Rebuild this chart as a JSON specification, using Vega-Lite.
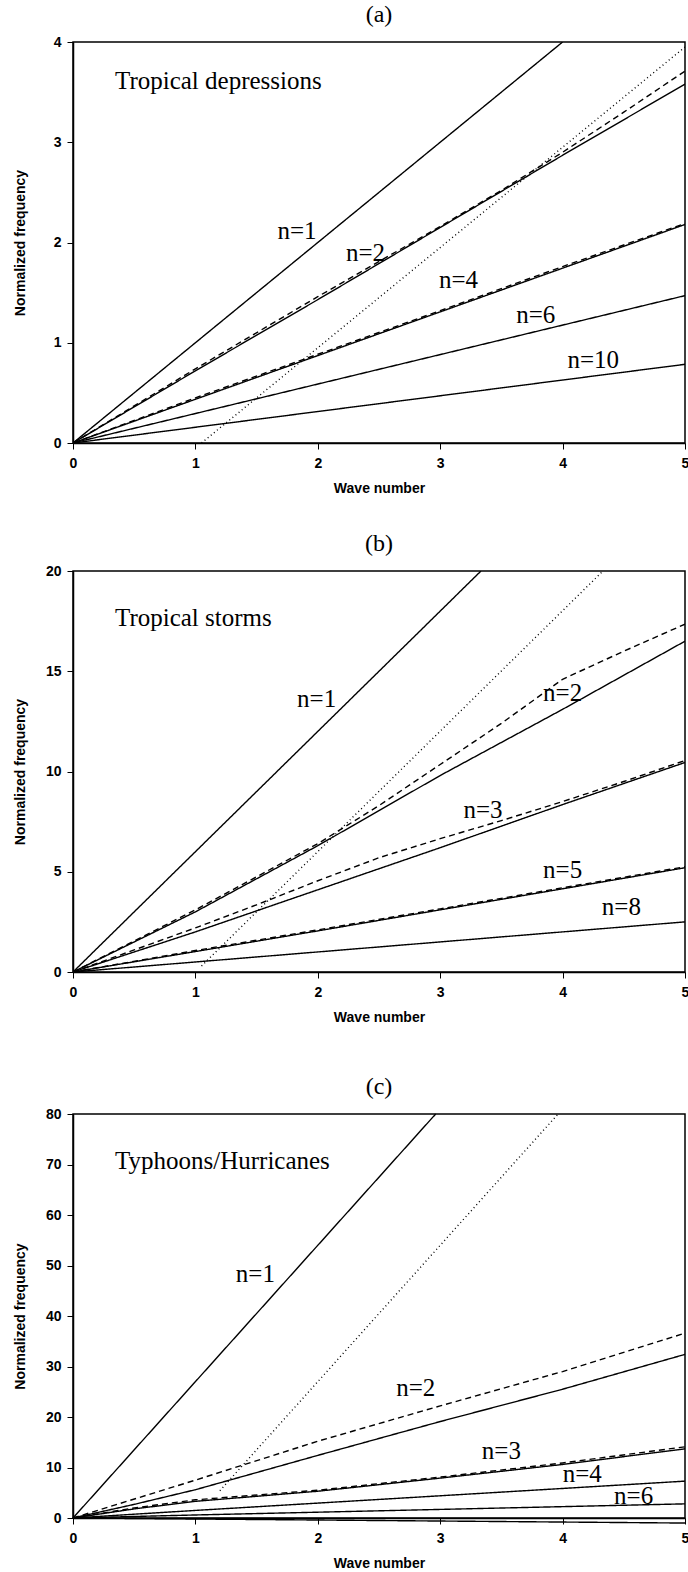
{
  "$schema": "https://vega.github.io/schema/vega-lite/v6.json",
  "background": "white",
  "padding": {"left": 12, "top": 2, "right": 0, "bottom": 0},
  "datasets": {
    "lines": [
      {"panel": "a", "series": "a1", "style": "solid", "wave": 0, "freq": 0},
      {"panel": "a", "series": "a1", "style": "solid", "wave": 1, "freq": 1},
      {"panel": "a", "series": "a1", "style": "solid", "wave": 2, "freq": 2},
      {"panel": "a", "series": "a1", "style": "solid", "wave": 3, "freq": 3},
      {"panel": "a", "series": "a1", "style": "solid", "wave": 4, "freq": 4},
      {"panel": "a", "series": "a2", "style": "solid", "wave": 0, "freq": 0},
      {"panel": "a", "series": "a2", "style": "solid", "wave": 1, "freq": 0.72},
      {"panel": "a", "series": "a2", "style": "solid", "wave": 2, "freq": 1.43},
      {"panel": "a", "series": "a2", "style": "solid", "wave": 3, "freq": 2.15},
      {"panel": "a", "series": "a2", "style": "solid", "wave": 4, "freq": 2.87},
      {"panel": "a", "series": "a2", "style": "solid", "wave": 5, "freq": 3.58},
      {"panel": "a", "series": "a2d", "style": "dashed", "wave": 0, "freq": 0},
      {"panel": "a", "series": "a2d", "style": "dashed", "wave": 1, "freq": 0.74},
      {"panel": "a", "series": "a2d", "style": "dashed", "wave": 2, "freq": 1.46},
      {"panel": "a", "series": "a2d", "style": "dashed", "wave": 3, "freq": 2.16},
      {"panel": "a", "series": "a2d", "style": "dashed", "wave": 3.5, "freq": 2.52},
      {"panel": "a", "series": "a2d", "style": "dashed", "wave": 4, "freq": 2.9},
      {"panel": "a", "series": "a2d", "style": "dashed", "wave": 4.5, "freq": 3.3},
      {"panel": "a", "series": "a2d", "style": "dashed", "wave": 5, "freq": 3.71},
      {"panel": "a", "series": "adot", "style": "dotted", "wave": 1.05, "freq": 0},
      {"panel": "a", "series": "adot", "style": "dotted", "wave": 5, "freq": 3.95},
      {"panel": "a", "series": "a4", "style": "solid", "wave": 0, "freq": 0},
      {"panel": "a", "series": "a4", "style": "solid", "wave": 5, "freq": 2.18},
      {"panel": "a", "series": "a4d", "style": "dashed", "wave": 0, "freq": 0},
      {"panel": "a", "series": "a4d", "style": "dashed", "wave": 1, "freq": 0.45},
      {"panel": "a", "series": "a4d", "style": "dashed", "wave": 2, "freq": 0.885},
      {"panel": "a", "series": "a4d", "style": "dashed", "wave": 3, "freq": 1.32},
      {"panel": "a", "series": "a4d", "style": "dashed", "wave": 4, "freq": 1.76},
      {"panel": "a", "series": "a4d", "style": "dashed", "wave": 5, "freq": 2.19},
      {"panel": "a", "series": "a6", "style": "solid", "wave": 0, "freq": 0},
      {"panel": "a", "series": "a6", "style": "solid", "wave": 5, "freq": 1.47},
      {"panel": "a", "series": "a10", "style": "solid", "wave": 0, "freq": 0},
      {"panel": "a", "series": "a10", "style": "solid", "wave": 5, "freq": 0.785},

      {"panel": "b", "series": "b1", "style": "solid", "wave": 0, "freq": 0},
      {"panel": "b", "series": "b1", "style": "solid", "wave": 1, "freq": 6},
      {"panel": "b", "series": "b1", "style": "solid", "wave": 2, "freq": 12},
      {"panel": "b", "series": "b1", "style": "solid", "wave": 3, "freq": 18},
      {"panel": "b", "series": "b1", "style": "solid", "wave": 3.333, "freq": 20},
      {"panel": "b", "series": "bdot", "style": "dotted", "wave": 1.05, "freq": 0.3},
      {"panel": "b", "series": "bdot", "style": "dotted", "wave": 4.33, "freq": 20},
      {"panel": "b", "series": "b2", "style": "solid", "wave": 0, "freq": 0},
      {"panel": "b", "series": "b2", "style": "solid", "wave": 1, "freq": 3.0},
      {"panel": "b", "series": "b2", "style": "solid", "wave": 2, "freq": 6.3},
      {"panel": "b", "series": "b2", "style": "solid", "wave": 3, "freq": 9.8},
      {"panel": "b", "series": "b2", "style": "solid", "wave": 4, "freq": 13.1},
      {"panel": "b", "series": "b2", "style": "solid", "wave": 5, "freq": 16.5},
      {"panel": "b", "series": "b2d", "style": "dashed", "wave": 0, "freq": 0},
      {"panel": "b", "series": "b2d", "style": "dashed", "wave": 0.5, "freq": 1.55},
      {"panel": "b", "series": "b2d", "style": "dashed", "wave": 1, "freq": 3.1},
      {"panel": "b", "series": "b2d", "style": "dashed", "wave": 1.5, "freq": 4.75},
      {"panel": "b", "series": "b2d", "style": "dashed", "wave": 2, "freq": 6.4},
      {"panel": "b", "series": "b2d", "style": "dashed", "wave": 2.5, "freq": 8.3},
      {"panel": "b", "series": "b2d", "style": "dashed", "wave": 3, "freq": 10.35},
      {"panel": "b", "series": "b2d", "style": "dashed", "wave": 3.5, "freq": 12.4},
      {"panel": "b", "series": "b2d", "style": "dashed", "wave": 4, "freq": 14.6},
      {"panel": "b", "series": "b2d", "style": "dashed", "wave": 4.5, "freq": 16.0},
      {"panel": "b", "series": "b2d", "style": "dashed", "wave": 5, "freq": 17.35},
      {"panel": "b", "series": "b3", "style": "solid", "wave": 0, "freq": 0},
      {"panel": "b", "series": "b3", "style": "solid", "wave": 1, "freq": 2.0},
      {"panel": "b", "series": "b3", "style": "solid", "wave": 2, "freq": 4.1},
      {"panel": "b", "series": "b3", "style": "solid", "wave": 3, "freq": 6.2},
      {"panel": "b", "series": "b3", "style": "solid", "wave": 4, "freq": 8.35},
      {"panel": "b", "series": "b3", "style": "solid", "wave": 5, "freq": 10.45},
      {"panel": "b", "series": "b3d", "style": "dashed", "wave": 0, "freq": 0},
      {"panel": "b", "series": "b3d", "style": "dashed", "wave": 0.5, "freq": 1.1},
      {"panel": "b", "series": "b3d", "style": "dashed", "wave": 1, "freq": 2.2},
      {"panel": "b", "series": "b3d", "style": "dashed", "wave": 1.5, "freq": 3.35},
      {"panel": "b", "series": "b3d", "style": "dashed", "wave": 2, "freq": 4.55},
      {"panel": "b", "series": "b3d", "style": "dashed", "wave": 2.5, "freq": 5.7},
      {"panel": "b", "series": "b3d", "style": "dashed", "wave": 3, "freq": 6.65},
      {"panel": "b", "series": "b3d", "style": "dashed", "wave": 3.5, "freq": 7.55},
      {"panel": "b", "series": "b3d", "style": "dashed", "wave": 4, "freq": 8.5},
      {"panel": "b", "series": "b3d", "style": "dashed", "wave": 4.5, "freq": 9.5},
      {"panel": "b", "series": "b3d", "style": "dashed", "wave": 5, "freq": 10.55},
      {"panel": "b", "series": "b5", "style": "solid", "wave": 0, "freq": 0},
      {"panel": "b", "series": "b5", "style": "solid", "wave": 1, "freq": 1.02},
      {"panel": "b", "series": "b5", "style": "solid", "wave": 2, "freq": 2.05},
      {"panel": "b", "series": "b5", "style": "solid", "wave": 3, "freq": 3.1},
      {"panel": "b", "series": "b5", "style": "solid", "wave": 4, "freq": 4.15},
      {"panel": "b", "series": "b5", "style": "solid", "wave": 5, "freq": 5.2},
      {"panel": "b", "series": "b5d", "style": "dashed", "wave": 0, "freq": 0},
      {"panel": "b", "series": "b5d", "style": "dashed", "wave": 1, "freq": 1.07},
      {"panel": "b", "series": "b5d", "style": "dashed", "wave": 2, "freq": 2.1},
      {"panel": "b", "series": "b5d", "style": "dashed", "wave": 3, "freq": 3.15},
      {"panel": "b", "series": "b5d", "style": "dashed", "wave": 4, "freq": 4.2},
      {"panel": "b", "series": "b5d", "style": "dashed", "wave": 5, "freq": 5.25},
      {"panel": "b", "series": "b8", "style": "solid", "wave": 0, "freq": 0},
      {"panel": "b", "series": "b8", "style": "solid", "wave": 5, "freq": 2.5},

      {"panel": "c", "series": "c1", "style": "solid", "wave": 0, "freq": 0},
      {"panel": "c", "series": "c1", "style": "solid", "wave": 1, "freq": 27},
      {"panel": "c", "series": "c1", "style": "solid", "wave": 2, "freq": 54},
      {"panel": "c", "series": "c1", "style": "solid", "wave": 2.963, "freq": 80},
      {"panel": "c", "series": "cdot", "style": "dotted", "wave": 1.2, "freq": 5.4},
      {"panel": "c", "series": "cdot", "style": "dotted", "wave": 3.963, "freq": 80},
      {"panel": "c", "series": "c2", "style": "solid", "wave": 0, "freq": 0},
      {"panel": "c", "series": "c2", "style": "solid", "wave": 0.5, "freq": 2.7},
      {"panel": "c", "series": "c2", "style": "solid", "wave": 1, "freq": 5.6},
      {"panel": "c", "series": "c2", "style": "solid", "wave": 2, "freq": 12.4},
      {"panel": "c", "series": "c2", "style": "solid", "wave": 3, "freq": 19.1},
      {"panel": "c", "series": "c2", "style": "solid", "wave": 4, "freq": 25.5},
      {"panel": "c", "series": "c2", "style": "solid", "wave": 5, "freq": 32.4},
      {"panel": "c", "series": "c2d", "style": "dashed", "wave": 0, "freq": 0},
      {"panel": "c", "series": "c2d", "style": "dashed", "wave": 1, "freq": 7.5},
      {"panel": "c", "series": "c2d", "style": "dashed", "wave": 2, "freq": 15.2},
      {"panel": "c", "series": "c2d", "style": "dashed", "wave": 3, "freq": 22.2},
      {"panel": "c", "series": "c2d", "style": "dashed", "wave": 4, "freq": 29.0},
      {"panel": "c", "series": "c2d", "style": "dashed", "wave": 5, "freq": 36.6},
      {"panel": "c", "series": "c3", "style": "solid", "wave": 0, "freq": 0},
      {"panel": "c", "series": "c3", "style": "solid", "wave": 0.5, "freq": 1.8},
      {"panel": "c", "series": "c3", "style": "solid", "wave": 1, "freq": 3.3},
      {"panel": "c", "series": "c3", "style": "solid", "wave": 2, "freq": 5.3},
      {"panel": "c", "series": "c3", "style": "solid", "wave": 3, "freq": 7.9},
      {"panel": "c", "series": "c3", "style": "solid", "wave": 4, "freq": 10.6},
      {"panel": "c", "series": "c3", "style": "solid", "wave": 5, "freq": 13.7},
      {"panel": "c", "series": "c3d", "style": "dashed", "wave": 0, "freq": 0},
      {"panel": "c", "series": "c3d", "style": "dashed", "wave": 0.5, "freq": 2.0},
      {"panel": "c", "series": "c3d", "style": "dashed", "wave": 1, "freq": 3.6},
      {"panel": "c", "series": "c3d", "style": "dashed", "wave": 2, "freq": 5.5},
      {"panel": "c", "series": "c3d", "style": "dashed", "wave": 3, "freq": 8.1},
      {"panel": "c", "series": "c3d", "style": "dashed", "wave": 4, "freq": 10.9},
      {"panel": "c", "series": "c3d", "style": "dashed", "wave": 5, "freq": 14.1},
      {"panel": "c", "series": "c4", "style": "solid", "wave": 0, "freq": 0},
      {"panel": "c", "series": "c4", "style": "solid", "wave": 1, "freq": 1.5},
      {"panel": "c", "series": "c4", "style": "solid", "wave": 2, "freq": 2.95},
      {"panel": "c", "series": "c4", "style": "solid", "wave": 3, "freq": 4.4},
      {"panel": "c", "series": "c4", "style": "solid", "wave": 4, "freq": 5.85},
      {"panel": "c", "series": "c4", "style": "solid", "wave": 5, "freq": 7.3},
      {"panel": "c", "series": "c6", "style": "solid", "wave": 0, "freq": 0},
      {"panel": "c", "series": "c6", "style": "solid", "wave": 1, "freq": 0.6},
      {"panel": "c", "series": "c6", "style": "solid", "wave": 2, "freq": 1.15},
      {"panel": "c", "series": "c6", "style": "solid", "wave": 3, "freq": 1.7},
      {"panel": "c", "series": "c6", "style": "solid", "wave": 4, "freq": 2.25},
      {"panel": "c", "series": "c6", "style": "solid", "wave": 5, "freq": 2.8},
      {"panel": "c", "series": "cb", "style": "solid", "wave": 0, "freq": 0},
      {"panel": "c", "series": "cb", "style": "solid", "wave": 1, "freq": -0.2},
      {"panel": "c", "series": "cb", "style": "solid", "wave": 5, "freq": -1.0}
    ],
    "labels": [
      {"panel": "a", "wave": 1.83, "freq": 2.11, "text": "n=1"},
      {"panel": "a", "wave": 2.39, "freq": 1.9, "text": "n=2"},
      {"panel": "a", "wave": 3.15, "freq": 1.63, "text": "n=4"},
      {"panel": "a", "wave": 3.78, "freq": 1.28, "text": "n=6"},
      {"panel": "a", "wave": 4.25, "freq": 0.83, "text": "n=10"},
      {"panel": "b", "wave": 1.99, "freq": 13.6, "text": "n=1"},
      {"panel": "b", "wave": 4.0, "freq": 13.9, "text": "n=2"},
      {"panel": "b", "wave": 3.35, "freq": 8.1, "text": "n=3"},
      {"panel": "b", "wave": 4.0, "freq": 5.1, "text": "n=5"},
      {"panel": "b", "wave": 4.48, "freq": 3.25, "text": "n=8"},
      {"panel": "c", "wave": 1.49, "freq": 48.3, "text": "n=1"},
      {"panel": "c", "wave": 2.8, "freq": 25.7, "text": "n=2"},
      {"panel": "c", "wave": 3.5, "freq": 13.3, "text": "n=3"},
      {"panel": "c", "wave": 4.16, "freq": 8.7, "text": "n=4"},
      {"panel": "c", "wave": 4.58, "freq": 4.4, "text": "n=6"}
    ],
    "names": [
      {"panel": "a", "wave": 0.343, "freq": 3.61, "text": "Tropical depressions"},
      {"panel": "b", "wave": 0.343, "freq": 17.66, "text": "Tropical storms"},
      {"panel": "c", "wave": 0.343, "freq": 70.7, "text": "Typhoons/Hurricanes"}
    ]
  },
  "config": {
    "view": {"stroke": "black", "strokeWidth": 1.5},
    "title": {"font": "Liberation Serif", "fontSize": 24, "fontWeight": "normal", "color": "black", "offset": 8, "anchor": "middle"},
    "axis": {
      "grid": false,
      "domainColor": "black",
      "domainWidth": 1.5,
      "tickColor": "black",
      "tickSize": 6,
      "labelFont": "Liberation Sans",
      "labelFontWeight": "bold",
      "labelFontSize": 14,
      "labelColor": "black",
      "labelFlush": false,
      "titleFont": "Liberation Sans",
      "titleFontWeight": "bold",
      "titleFontSize": 14,
      "titleColor": "black"
    },
    "axisX": {"labelPadding": 7, "titlePadding": 11},
    "axisY": {"labelPadding": 6, "titlePadding": 10, "minExtent": 36, "maxExtent": 36}
  },
  "spacing": 49,
  "vconcat": [
    {
      "spacing": 35,
      "vconcat": [
        {
          "width": 612,
          "height": 401,
          "title": "(a)",
          "encoding": {
            "x": {"field": "wave", "type": "quantitative", "scale": {"domain": [0, 5], "nice": false}, "axis": {"title": "Wave number", "values": [0, 1, 2, 3, 4, 5]}},
            "y": {"field": "freq", "type": "quantitative", "scale": {"domain": [0, 4], "nice": false}, "axis": {"title": "Normalized frequency", "values": [0, 1, 2, 3, 4]}}
          },
          "layer": [
            {
              "data": {"name": "lines"},
              "transform": [{"filter": "datum.panel === 'a'"}],
              "mark": {"type": "line", "color": "black", "strokeWidth": 1.4, "clip": true},
              "encoding": {
                "detail": {"field": "series", "type": "nominal"},
                "strokeDash": {"field": "style", "type": "nominal", "scale": {"domain": ["solid", "dashed", "dotted"], "range": [[1, 0], [6, 4], [1, 3]]}, "legend": null}
              }
            },
            {
              "data": {"name": "labels"},
              "transform": [{"filter": "datum.panel === 'a'"}],
              "mark": {"type": "text", "font": "Liberation Serif", "fontSize": 25, "color": "black", "align": "center", "baseline": "middle"},
              "encoding": {"text": {"field": "text"}}
            },
            {
              "data": {"name": "names"},
              "transform": [{"filter": "datum.panel === 'a'"}],
              "mark": {"type": "text", "font": "Liberation Serif", "fontSize": 25, "color": "black", "align": "left", "baseline": "middle"},
              "encoding": {"text": {"field": "text"}}
            }
          ]
        },
        {
          "width": 612,
          "height": 401,
          "title": "(b)",
          "encoding": {
            "x": {"field": "wave", "type": "quantitative", "scale": {"domain": [0, 5], "nice": false}, "axis": {"title": "Wave number", "values": [0, 1, 2, 3, 4, 5]}},
            "y": {"field": "freq", "type": "quantitative", "scale": {"domain": [0, 20], "nice": false}, "axis": {"title": "Normalized frequency", "values": [0, 5, 10, 15, 20]}}
          },
          "layer": [
            {
              "data": {"name": "lines"},
              "transform": [{"filter": "datum.panel === 'b'"}],
              "mark": {"type": "line", "color": "black", "strokeWidth": 1.4, "clip": true},
              "encoding": {
                "detail": {"field": "series", "type": "nominal"},
                "strokeDash": {"field": "style", "type": "nominal", "scale": {"domain": ["solid", "dashed", "dotted"], "range": [[1, 0], [6, 4], [1, 3]]}, "legend": null}
              }
            },
            {
              "data": {"name": "labels"},
              "transform": [{"filter": "datum.panel === 'b'"}],
              "mark": {"type": "text", "font": "Liberation Serif", "fontSize": 25, "color": "black", "align": "center", "baseline": "middle"},
              "encoding": {"text": {"field": "text"}}
            },
            {
              "data": {"name": "names"},
              "transform": [{"filter": "datum.panel === 'b'"}],
              "mark": {"type": "text", "font": "Liberation Serif", "fontSize": 25, "color": "black", "align": "left", "baseline": "middle"},
              "encoding": {"text": {"field": "text"}}
            }
          ]
        }
      ]
    },
    {
      "width": 612,
      "height": 404,
      "title": "(c)",
      "encoding": {
        "x": {"field": "wave", "type": "quantitative", "scale": {"domain": [0, 5], "nice": false}, "axis": {"title": "Wave number", "values": [0, 1, 2, 3, 4, 5]}},
        "y": {"field": "freq", "type": "quantitative", "scale": {"domain": [0, 80], "nice": false}, "axis": {"title": "Normalized frequency", "values": [0, 10, 20, 30, 40, 50, 60, 70, 80]}}
      },
      "layer": [
        {
          "data": {"name": "lines"},
          "transform": [{"filter": "datum.panel === 'c'"}],
          "mark": {"type": "line", "color": "black", "strokeWidth": 1.4, "clip": false},
          "encoding": {
            "detail": {"field": "series", "type": "nominal"},
            "strokeDash": {"field": "style", "type": "nominal", "scale": {"domain": ["solid", "dashed", "dotted"], "range": [[1, 0], [6, 4], [1, 3]]}, "legend": null}
          }
        },
        {
          "data": {"name": "labels"},
          "transform": [{"filter": "datum.panel === 'c'"}],
          "mark": {"type": "text", "font": "Liberation Serif", "fontSize": 25, "color": "black", "align": "center", "baseline": "middle"},
          "encoding": {"text": {"field": "text"}}
        },
        {
          "data": {"name": "names"},
          "transform": [{"filter": "datum.panel === 'c'"}],
          "mark": {"type": "text", "font": "Liberation Serif", "fontSize": 25, "color": "black", "align": "left", "baseline": "middle"},
          "encoding": {"text": {"field": "text"}}
        }
      ]
    }
  ]
}
